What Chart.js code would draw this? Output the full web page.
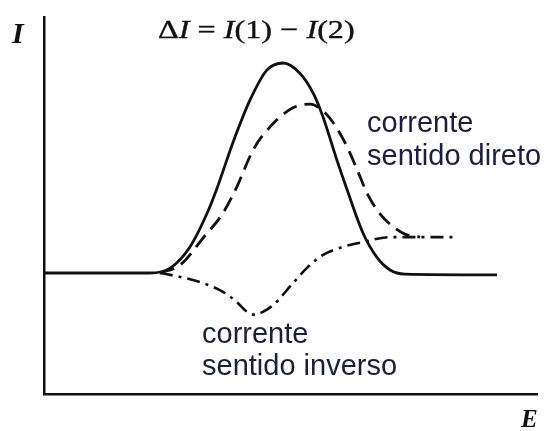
<!DOCTYPE html>
<html>
<head>
<meta charset="utf-8">
<script src="https://cdn.jsdelivr.net/npm/chart.js@4/dist/chart.umd.min.js"></script>
<style>
  html, body { margin: 0; padding: 0; background: #fff; }
  canvas { display: block; }
</style>
</head>
<body>
<canvas id="chart" width="548" height="431"></canvas>
<script>
// Energy (E) vs current (I), arbitrary units 0..100 on both axes
const solidE = [0, 21.5, 25.6, 29.6, 33.1, 35.1, 38.3, 41.8, 45.2, 48.5, 51.9, 54.6, 56.6, 59.4, 61.5, 64.7, 67.5, 70.2, 73.2, 91.9];
const solidI = [32.1, 32.1, 33.4, 39.0, 48.0, 54.6, 66.6, 78.0, 85.9, 87.8, 85.1, 79.8, 73.5, 62.1, 54.1, 42.7, 36.3, 32.9, 31.8, 31.6];

// corrente sentido direto
const forwardE = [23.5, 27.6, 32.3, 36.3, 39.1, 42.4, 45.8, 50.5, 54.0, 56.6, 58.6, 61.5, 63.7, 65.7, 68.2, 70.6, 73.2, 76.3];
const forwardI = [32.1, 34.2, 41.4, 48.0, 54.9, 64.7, 70.8, 75.9, 76.9, 75.1, 72.1, 65.5, 58.9, 52.8, 47.7, 44.6, 42.4, 41.6];

// corrente sentido inverso
const reverseE = [23.5, 25.6, 31.6, 36.3, 39.1, 41.2, 42.8, 44.4, 46.5, 50.5, 53.3, 56.6, 60.6, 64.7, 70.2, 76.3, 83.8];
const reverseI = [32.1, 31.6, 29.7, 27.1, 24.4, 21.8, 21.0, 21.8, 23.6, 29.4, 33.4, 36.9, 39.0, 40.3, 41.6, 41.6, 41.6];

const labelDireto = ['corrente', 'sentido direto'];
const labelInverso = ['corrente', 'sentido inverso'];

function toPoints(xs, ys) {
  return xs.map((x, i) => ({ x: x, y: ys[i] }));
}

const ink = '#111';
const textBlue = '#1d1d3d';

// Axis letters, title formula and curve captions
const annotate = {
  id: 'annotate',
  afterDraw(chart) {
    const ctx = chart.ctx;
    ctx.save();
    ctx.fillStyle = ink;
    ctx.strokeStyle = ink;
    ctx.lineWidth = 0.35;
    ctx.textBaseline = 'alphabetic';

    // ΔI = I(1) − I(2), mixing upright and italic pieces
    const parts = [
      ['Δ', false], ['I', true], [' = ', false], ['I', true],
      ['(1) − ', false], ['I', true], ['(2)', false]
    ];
    ctx.save();
    ctx.translate(158, 38);
    ctx.scale(1.24, 1);
    let x = 0;
    for (const [txt, ital] of parts) {
      ctx.font = (ital ? 'italic ' : '') + '26px "Liberation Serif"';
      ctx.fillText(txt, x, 0);
      ctx.strokeText(txt, x, 0);
      x += ctx.measureText(txt).width;
    }
    ctx.restore();

    ctx.font = 'italic bold 30px "Liberation Serif"';
    ctx.fillText('I', 12, 43);
    ctx.font = 'italic bold 25px "Liberation Serif"';
    ctx.fillText('E', 521, 427);

    ctx.fillStyle = textBlue;
    ctx.font = '29px "Liberation Sans"';
    labelDireto.forEach((t, i) => ctx.fillText(t, 367, 132 + i * 33));
    labelInverso.forEach((t, i) => ctx.fillText(t, 202, 343 + i * 32));
    ctx.restore();
  }
};

const flatAxis = (scale) => {
  if (scale.isHorizontal()) { scale.height = 0; } else { scale.width = 0; }
};

const curve = {
  showLine: true,
  borderColor: ink,
  borderWidth: 2.8,
  pointRadius: 0,
  cubicInterpolationMode: 'monotone',
};

new Chart(document.getElementById('chart'), {
  type: 'scatter',
  data: {
    datasets: [
      Object.assign({}, curve, {
        label: 'I(1)',
        data: toPoints(solidE, solidI),
      }),
      Object.assign({}, curve, {
        label: 'corrente sentido direto',
        data: toPoints(forwardE, forwardI),
        borderDash: [15, 8],
      }),
      Object.assign({}, curve, {
        label: 'corrente sentido inverso',
        data: toPoints(reverseE, reverseI),
        borderWidth: 2.6,
        borderDash: [13, 6, 3, 6],
      })
    ]
  },
  options: {
    responsive: false,
    animation: false,
    layout: {
      padding: { left: 44, right: 11, top: 17, bottom: 37 }
    },
    plugins: {
      legend: { display: false },
      tooltip: { enabled: false },
    },
    scales: {
      x: {
        type: 'linear',
        min: 0,
        max: 100,
        grid: { display: false, drawTicks: false },
        ticks: { display: false },
        border: { display: true, color: ink, width: 2.5 },
        afterFit: flatAxis,
      },
      y: {
        type: 'linear',
        min: 0,
        max: 100,
        grid: { display: false, drawTicks: false },
        ticks: { display: false },
        border: { display: true, color: ink, width: 2.5 },
        afterFit: flatAxis,
      }
    }
  },
  plugins: [annotate]
});
</script>
</body>
</html>
